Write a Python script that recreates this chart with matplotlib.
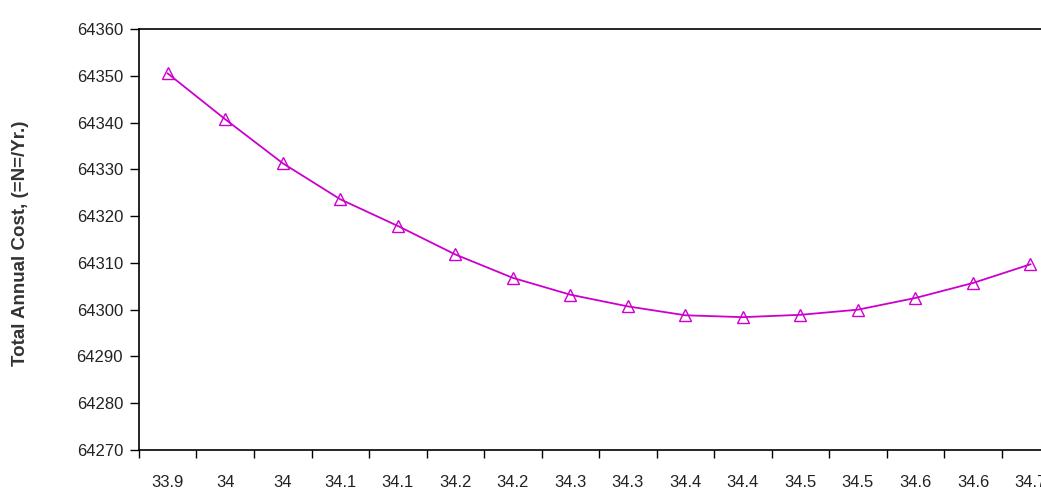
import numpy as np
import matplotlib
matplotlib.use("Agg")
import matplotlib.pyplot as plt

# categories on x (as printed on the chart) and total annual cost values
x_labels = ["33.9", "34", "34", "34.1", "34.1", "34.2", "34.2", "34.3",
            "34.3", "34.4", "34.4", "34.5", "34.5", "34.6", "34.6", "34.7"]
cost = [64350.5, 64340.7, 64331.3, 64323.6, 64317.9, 64311.8, 64306.8, 64303.2,
        64300.7, 64298.8, 64298.4, 64298.9, 64300.0, 64302.5, 64305.7, 64309.7]
y_ticks = [64270, 64280, 64290, 64300, 64310, 64320, 64330, 64340, 64350, 64360]

plt.rcParams["font.family"] = ["Liberation Sans", "DejaVu Sans"]

fig = plt.figure(figsize=(10.41, 4.95), dpi=100)
ax = fig.add_axes([0.1335, 0.0909, 0.884, 0.8505])

xs = np.arange(len(cost))
ax.plot(xs, cost, color="#cc00cc", lw=1.3, marker="^", ms=8,
        mfc="none", mec="#cc00cc", mew=1.0)

ax.set_xlim(-0.5, len(cost) - 0.5)
ax.set_ylim(y_ticks[0], y_ticks[-1])
ax.set_yticks(y_ticks)
ax.set_yticklabels([str(v) for v in y_ticks], fontsize=12, color="#222222")

# ticks at category borders, labels at category centres
ax.set_xticks(np.arange(-0.5, len(cost), 1.0))
ax.set_xticklabels([])
ax.set_xticks(xs, minor=True)
ax.set_xticklabels(x_labels, minor=True, fontsize=12, color="#222222")
ax.tick_params(axis="x", which="major", direction="out", length=6, width=1)
ax.tick_params(axis="x", which="minor", length=0, pad=18)
ax.tick_params(axis="y", direction="out", length=6.5, width=1, pad=5)

for s in ["left", "bottom", "top"]:
    ax.spines[s].set_linewidth(1.2)
    ax.spines[s].set_color("black")
ax.spines["right"].set_visible(False)

ax.set_ylabel("Total Annual Cost, (=N=/Yr.)", fontsize=13.5, fontweight="bold",
              color="#333333")
ax.yaxis.set_label_coords(-0.12, 0.49)

fig.savefig("out.png", dpi=100)
